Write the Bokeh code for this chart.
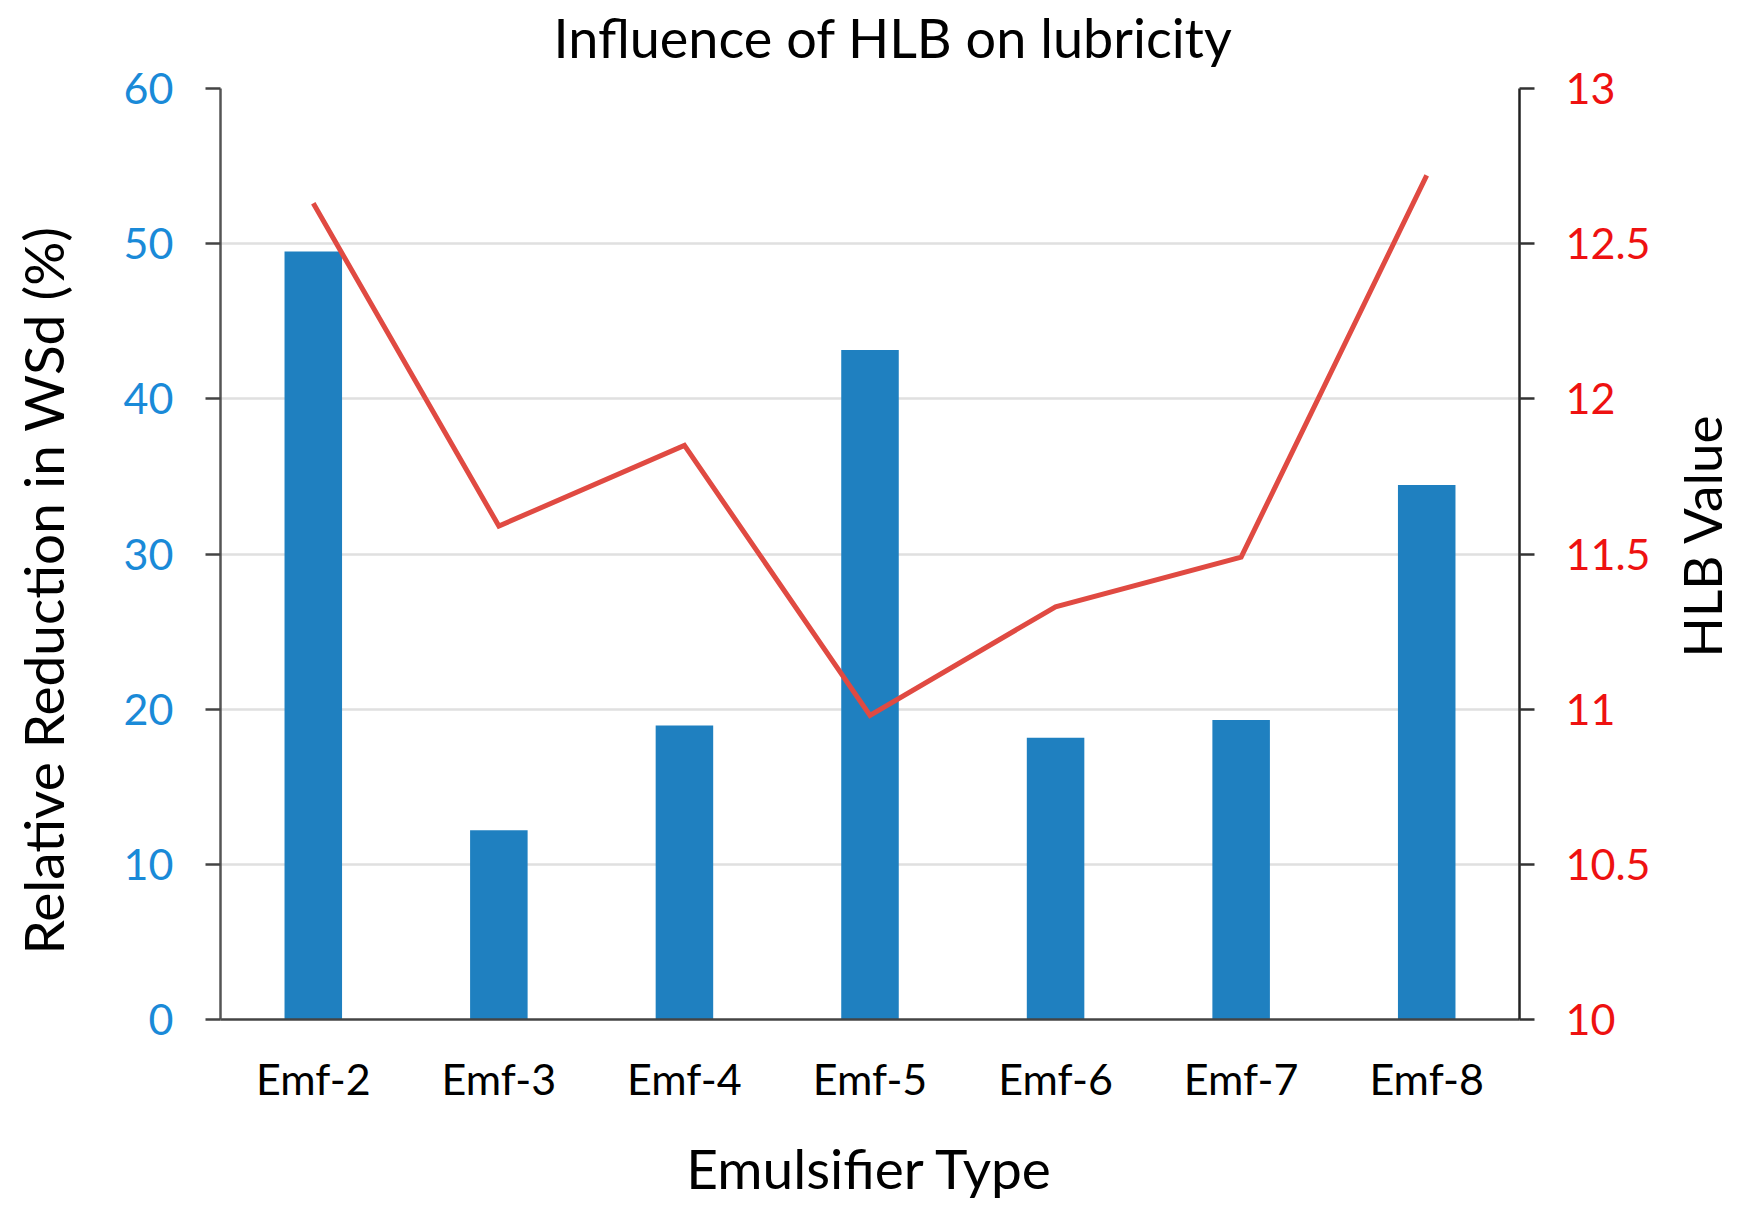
import math
from bokeh.plotting import figure
from bokeh.layouts import row
from bokeh.models import Range1d, LinearAxis, FixedTicker, FactorRange, Title
from bokeh.core.properties import value
from bokeh.embed import file_html
from bokeh.resources import INLINE

categories = ["Emf-2", "Emf-3", "Emf-4", "Emf-5", "Emf-6", "Emf-7", "Emf-8"]
wsd_reduction = [49.5, 12.2, 18.95, 43.15, 18.15, 19.3, 34.45]
hlb_values = [12.63, 11.59, 11.85, 10.98, 11.33, 11.49, 12.72]
left_ticks = [0, 10, 20, 30, 40, 50, 60]
right_ticks = [10, 10.5, 11, 11.5, 12, 12.5, 13]
right_tick_labels = ["10", "10.5", "11", "11.5", "12", "12.5", "13"]
left_title = "Relative Reduction in WSd  (%)"
right_title = "HLB Value"
x_title = "Emulsifier Type"
chart_title = "Influence of HLB on lubricity"

FONT = "Lato"

W_MAIN, W_SIDE, H = 1660, 80, 1212
FRAME_L, FRAME_T, FRAME_R, FRAME_B = 220, 88, 1519, 1019

p = figure(
    x_range=FactorRange(*categories, range_padding=0),
    y_range=Range1d(0, 60),
    width=W_MAIN, height=H,
    output_backend="svg", toolbar_location=None,
    min_border_left=FRAME_L, min_border_right=W_MAIN - FRAME_R,
    min_border_top=FRAME_T, min_border_bottom=H - FRAME_B,
    title=chart_title,
)
p.x_range.range_padding = 0
p.outline_line_color = None
p.background_fill_color = "white"
p.border_fill_color = "white"

p.title.text_font = FONT
p.title.text_font_size = "54px"
p.title.text_font_style = "normal"
p.title.text_color = "black"
p.title.align = "left"
p.title.offset = 333
p.title.standoff = 0

# thin spacer between the frame and the chart title
p.add_layout(Title(text=" ", text_font_size="1px", standoff=16), "above")

p.extra_y_ranges = {"hlb": Range1d(10, 13)}

p.vbar(x=categories, top=wsd_reduction, width=0.31, color="#1f80c0", line_color=None)
p.line(x=categories, y=hlb_values, y_range_name="hlb", line_color="#e04a42", line_width=5, line_join="miter")

# x axis
xa = p.xaxis[0]
xa.axis_label = x_title
xa.axis_label_text_font = FONT
xa.axis_label_text_font_size = "55px"
xa.axis_label_text_font_style = "normal"
xa.axis_label_text_color = "black"
xa.axis_label_standoff = 28
xa.major_label_text_font = FONT
xa.major_label_text_font_size = "43px"
xa.major_label_text_color = "black"
xa.major_label_standoff = 33
xa.major_tick_out = 0
xa.major_tick_in = 0
xa.axis_line_color = "#444444"
xa.axis_line_width = 2.5

# left y axis
ya = p.yaxis[0]
ya.ticker = FixedTicker(ticks=left_ticks)
ya.major_label_text_font = FONT
ya.major_label_text_font_size = "43px"
ya.major_label_text_color = "#1a8ad8"
ya.major_label_standoff = 32
ya.major_tick_out = 15
ya.major_tick_in = 0
ya.major_tick_line_color = "#444444"
ya.major_tick_line_width = 2.5
ya.minor_tick_out = 0
ya.minor_tick_in = 0
ya.axis_line_color = "#555555"
ya.axis_line_width = 2.5

# spacer, then the left axis title reading bottom-to-top
p.add_layout(Title(text=" ", text_font_size="1px", standoff=42), "left")
lt = Title(text=left_title, align="left", offset=65, standoff=0,
           text_font=FONT, text_font_size="55px", text_font_style="normal",
           text_color="black")
p.add_layout(lt, "left")

# right y axis
ra = LinearAxis(y_range_name="hlb")
ra.ticker = FixedTicker(ticks=right_ticks)
ra.major_label_overrides = {float(t): s for t, s in zip(right_ticks, right_tick_labels)}
ra.major_label_text_font = FONT
ra.major_label_text_font_size = "43px"
ra.major_label_text_color = "#ee1111"
ra.major_label_standoff = 31
ra.major_tick_out = 15
ra.major_tick_in = 0
ra.major_tick_line_color = "#333333"
ra.major_tick_line_width = 2.5
ra.minor_tick_out = 0
ra.minor_tick_in = 0
ra.axis_line_color = "#222222"
ra.axis_line_width = 2.5
p.add_layout(ra, "right")

p.xgrid.grid_line_color = None
p.ygrid.grid_line_color = "#e0e0e0"
p.ygrid.grid_line_width = 2.5
p.ygrid.ticker = FixedTicker(ticks=left_ticks)

# narrow side panel carrying the right axis title (reads bottom-to-top)
s = figure(
    width=W_SIDE, height=H, x_range=Range1d(0, W_SIDE), y_range=Range1d(0, H),
    output_backend="svg", toolbar_location=None,
    x_axis_type=None, y_axis_type=None,
    min_border=0, min_border_left=0, min_border_right=0,
    min_border_top=0, min_border_bottom=0,
)
s.outline_line_color = None
s.grid.visible = False
s.background_fill_color = "white"
s.border_fill_color = "white"
s.text(x=[41], y=[630], text=[right_title], angle=math.pi / 2,
       text_align="center", text_baseline="alphabetic",
       text_font=value(FONT), text_font_size="53px", text_color="black")

layout = row(p, s, spacing=0)
open("out.html", "w").write(file_html(layout, INLINE))
